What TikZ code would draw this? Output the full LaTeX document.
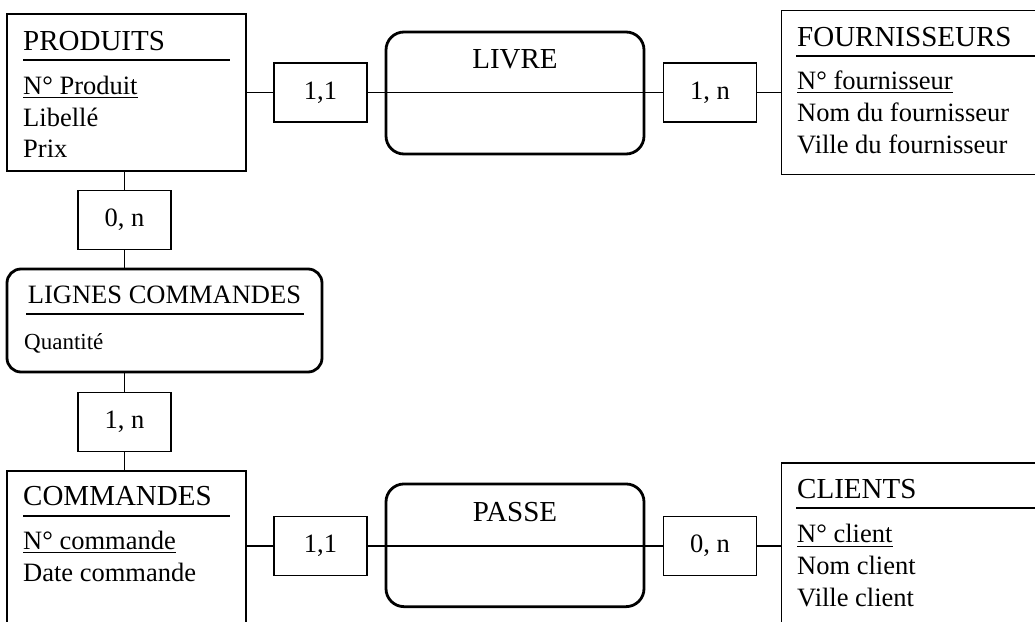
\documentclass[tikz,border=0pt]{standalone}
\usepackage{fontspec}
\setmainfont{Liberation Serif}
\begin{document}
\begin{tikzpicture}[x=1pt,y=-1pt,
  thin line/.style={line width=1.3pt},
  entbox/.style={draw,thin line,inner sep=0pt},
  assoc/.style={draw,line width=2.8pt,inner sep=0pt,rounded corners=18pt},
  card/.style={draw,thin line,inner sep=0pt,minimum width=93pt,minimum height=59pt,font=\fontsize{26.5}{30}\selectfont},
  ttl/.style={inner sep=0pt,anchor=base west,font=\fontsize{29}{32}\selectfont},
  attr/.style={inner sep=0pt,anchor=base west,font=\fontsize{26.5}{30}\selectfont},
  small/.style={inner sep=0pt,anchor=base west,font=\fontsize{23}{26}\selectfont}]
\useasboundingbox (0,0) rectangle (1035,621);
\clip (0,0) rectangle (1035,621);
% entities
\node[entbox,minimum width=239pt,minimum height=157pt] (prod) at (126.5,92.5) {};
\node[entbox,minimum width=280pt,minimum height=163.6pt] (four) at (921.5,92.5) {};
\node[entbox,minimum width=239pt,minimum height=190pt] (cmd) at (126.5,566) {};
\node[entbox,minimum width=280pt,minimum height=200pt] (cli) at (921.5,563) {};
% associations
\node[assoc,minimum width=258pt,minimum height=122pt] (livre) at (515,93) {};
\node[assoc,minimum width=258pt,minimum height=122.7pt] (passe) at (515,545.3) {};
\node[assoc,rounded corners=14pt,minimum width=315pt,minimum height=103pt] (lig) at (164.5,320.5) {};
% cardinalities
\node[card] (c11) at (320.5,92.5) {1,1};
\node[card] (c1n) at (710,92.5) {1, n};
\node[card] (c0n) at (124.5,220) {0, n};
\node[card] (c1nb) at (124.5,422) {1, n};
\node[card] (c11b) at (320.5,546) {1,1};
\node[card] (c0nb) at (710,546) {0, n};
% connectors
\draw[thin line] (prod) -- (c11);
\draw[thin line] (c11) -- (c1n);
\draw[thin line] (c1n) -- (c1n -| four.west);
\draw[thin line] (c0n |- prod.south) -- (c0n.north);
\draw[thin line] (c0n.south) -- (c0n |- lig.north);
\draw[thin line] (c1nb |- lig.south) -- (c1nb.north);
\draw[thin line] (c1nb.south) -- (c1nb |- cmd.north);
\draw[thin line] (c11b -| cmd.east) -- (c11b.west);
\draw[thin line] (c11b) -- (c0nb);
\draw[thin line] (c0nb) -- (c0nb -| cli.west);
% association titles
\node[inner sep=0pt,anchor=base,font=\fontsize{29}{32}\selectfont] (tlivre) at (515,68) {LIVRE};
\node[inner sep=0pt,anchor=base,font=\fontsize{29}{32}\selectfont] (tpasse) at (515,521) {PASSE};
\node[inner sep=0pt,anchor=base,font=\fontsize{26.5}{30}\selectfont] (tlig) at (164.5,303) {LIGNES COMMANDES};
\draw[thin line] (26,314) -- (304,314);
\node[small] (qte) at (24,349) {Quantité};
% PRODUITS
\node[ttl] (tprod) at (23,50) {PRODUITS};
\draw[thin line] (23,60) -- (230,60);
\node[attr] (np) at (23,94) {N° Produit};
\draw[line width=1pt] ([yshift=-3.5pt]np.base west) -- ([yshift=-3.5pt]np.base east);
\node[attr] (lib) at (23,126) {Libellé};
\node[attr] (prix) at (23,157) {Prix};
% FOURNISSEURS
\node[ttl] (tfour) at (797,46) {FOURNISSEURS};
\draw[thin line] (796,56) -- (1040,56);
\node[attr] (nf) at (797,89) {N° fournisseur};
\draw[line width=1pt] ([yshift=-3.5pt]nf.base west) -- ([yshift=-3.5pt]nf.base east);
\node[attr] (nomf) at (797,121.7) {Nom du fournisseur};
\node[attr] (villef) at (797,153) {Ville du fournisseur};
% COMMANDES
\node[ttl] (tcmd) at (23,505) {COMMANDES};
\draw[thin line] (23,516) -- (230,516);
\node[attr] (nc) at (23,549) {N° commande};
\draw[line width=1pt] ([yshift=-3.5pt]nc.base west) -- ([yshift=-3.5pt]nc.base east);
\node[attr] (datec) at (23,581.7) {Date commande};
% CLIENTS
\node[ttl] (tcli) at (797,498) {CLIENTS};
\draw[thin line] (796,508) -- (1040,508);
\node[attr] (ncl) at (797,542.7) {N° client};
\draw[line width=1pt] ([yshift=-3.5pt]ncl.base west) -- ([yshift=-3.5pt]ncl.base east);
\node[attr] (nomc) at (797,574) {Nom client};
\node[attr] (villec) at (797,606) {Ville client};
\end{tikzpicture}
\end{document}
